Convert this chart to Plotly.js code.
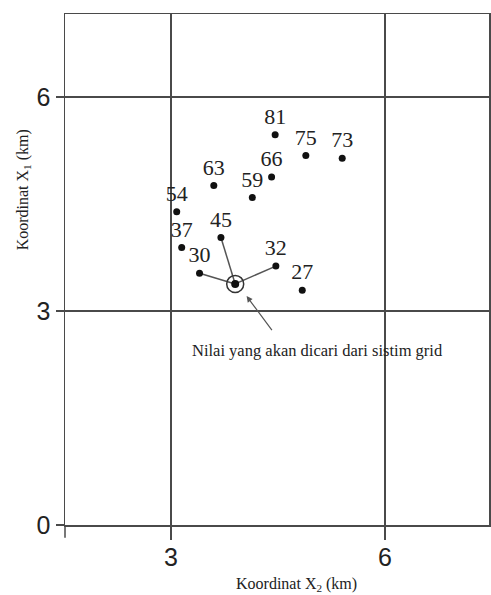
<!DOCTYPE html>
<html>
<head>
<meta charset="utf-8">
<script src="https://cdn.plot.ly/plotly-3.0.1.min.js"></script>
<style>html,body{margin:0;padding:0;background:#fff}#chart{width:491px;height:595px}</style>
</head>
<body>
<div id="chart"></div>
<script>
// Data
const labels = ["81","75","73","66","63","59","54","45","37","30","32","27"];
const x2 = [4.46, 4.89, 5.40, 4.41, 3.60, 4.14, 3.08, 3.70, 3.15, 3.40, 4.47, 4.84];
const x1 = [5.47, 5.18, 5.14, 4.88, 4.76, 4.59, 4.39, 4.03, 3.89, 3.53, 3.63, 3.29];
const targetX2 = [3.90];
const targetX1 = [3.38];
const neighbours = ["30","45","32"];
const xTicks = [3, 6];
const yTicks = [0, 3, 6];
const xTitle = "Koordinat X<sub>2</sub> (km)";
const yTitle = "Koordinat X<sub>1</sub> (km)";
const noteText = "Nilai yang akan dicari dari sistim grid";

const lineColor = "#4a4a4a";
const serif = "Liberation Serif";
const sans = "Liberation Sans";

const traces = [];
// connecting lines to neighbours
neighbours.forEach(n => {
  const i = labels.indexOf(n);
  traces.push({
    x: [targetX2[0], x2[i]], y: [targetX1[0], x1[i]],
    mode: "lines", line: {color: "#555", width: 1.5},
    hoverinfo: "skip", showlegend: false
  });
});
traces.push({
  x: x2, y: x1, text: labels, mode: "markers+text",
  textposition: "top center",
  textfont: {family: serif, size: 22, color: "#222"},
  marker: {color: "#111", size: 7},
  showlegend: false
});
traces.push({
  x: targetX2, y: targetX1, mode: "markers",
  marker: {color: "rgba(0,0,0,0)", size: 17, line: {color: "#333", width: 1.5}},
  showlegend: false
});
traces.push({
  x: targetX2, y: targetX1, mode: "markers",
  marker: {color: "#111", size: 8},
  showlegend: false
});

const xr = [1.514, 7.458];
const yr = [0, 7.164];

const layout = {
  width: 491, height: 595,
  margin: {l: 65, r: 2, t: 14, b: 70},
  paper_bgcolor: "#fff", plot_bgcolor: "#fff",
  showlegend: false,
  xaxis: {
    range: xr, tickvals: xTicks, ticktext: xTicks.map(String),
    showgrid: true, gridcolor: lineColor, gridwidth: 1.5,
    zeroline: false, showline: true, linecolor: lineColor, linewidth: 1.5, mirror: true,
    ticks: "outside", ticklen: 13, tickwidth: 1.5, tickcolor: lineColor,
    ticklabelstandoff: -4,
    tickfont: {family: sans, size: 25, color: "#222"}
  },
  yaxis: {
    range: yr, tickvals: yTicks, ticktext: yTicks.map(String),
    showgrid: true, gridcolor: lineColor, gridwidth: 1.5,
    zeroline: false, showline: true, linecolor: lineColor, linewidth: 1.5, mirror: true,
    ticks: "outside", ticklen: 8, tickwidth: 1.5, tickcolor: lineColor,
    tickfont: {family: sans, size: 25, color: "#222"}
  },
  shapes: [
    {type: "line", xref: "paper", yref: "paper", x0: 0, x1: 0, y0: 0, y1: -0.025,
     line: {color: lineColor, width: 1.5}}
  ],
  annotations: [
    {xref: "paper", yref: "paper", x: 0.5465, y: -0.117, xanchor: "center", yanchor: "middle",
     text: xTitle, showarrow: false, font: {family: serif, size: 16, color: "#222"}},
    {xref: "paper", yref: "paper", x: -0.099, y: 0.655, xanchor: "center", yanchor: "middle",
     text: yTitle, textangle: -90, showarrow: false, font: {family: serif, size: 16, color: "#222"}},
    {xref: "x", yref: "y", x: 4.06, y: 3.21, ax: 4.43, ay: 2.71, axref: "x", ayref: "y",
     text: "", showarrow: true, arrowhead: 2, arrowsize: 1, arrowwidth: 1.2, arrowcolor: "#555",
     standoff: 0},
    {xref: "x", yref: "y", x: 5.047, y: 2.453, xanchor: "center", yanchor: "middle",
     text: noteText, showarrow: false, font: {family: serif, size: 16.5, color: "#222"}}
  ]
};

Plotly.newPlot("chart", traces, layout, {displayModeBar: false, staticPlot: true});
</script>
</body>
</html>
